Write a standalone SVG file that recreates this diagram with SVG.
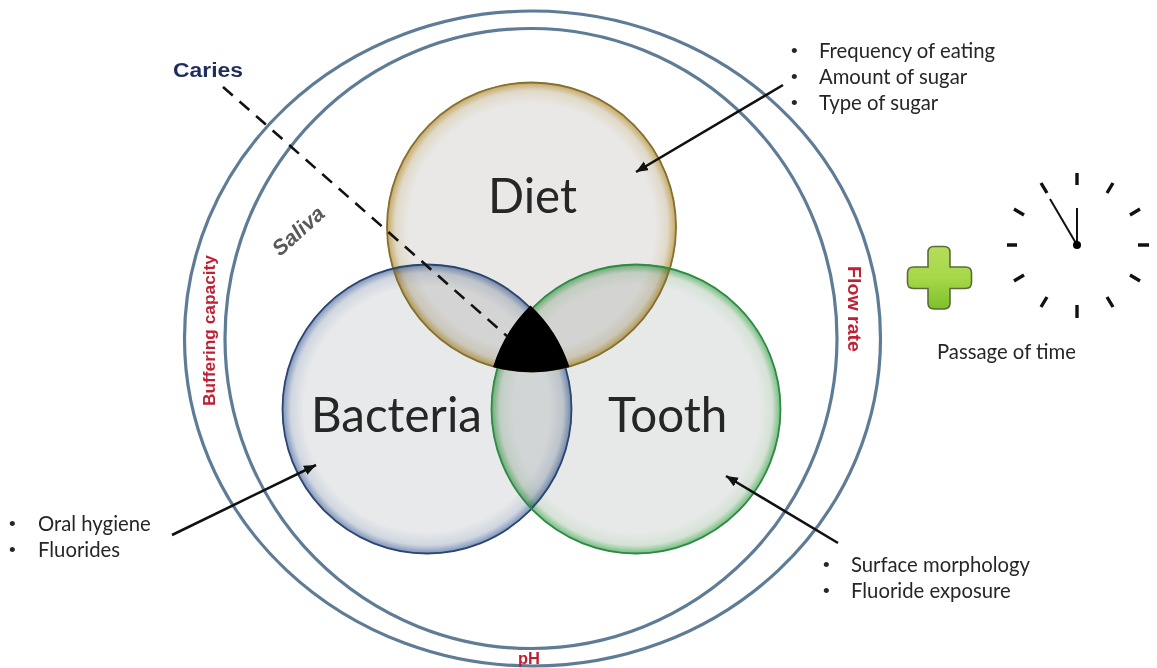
<svg xmlns="http://www.w3.org/2000/svg" width="1157" height="668" viewBox="0 0 1157 668">
<style>
.lab{font-family:"Lato","Open Sans","Liberation Sans",sans-serif;fill:#262626}
.big{font-size:47.500px}
.li{font-size:20.300px}
.bu{font-family:"Liberation Sans",Arial,sans-serif;font-size:19px;fill:#262626}
.red{font-family:"Liberation Sans",Arial,sans-serif;font-weight:700;fill:#bf2033}
.ring{fill:none;stroke:#5f7c97;stroke-width:3.2}
.fillc{mix-blend-mode:multiply}
.edge{fill:none;stroke-width:1.8}
.arrow{fill:none;stroke:#111;stroke-width:2.6}
.dash{fill:none;stroke:#111;stroke-width:2.6;stroke-dasharray:13 9}
.tick{stroke:#111;stroke-width:3.4}
</style>
<defs>
<radialGradient id="gDiet"><stop offset="0.85" stop-color="#e9e8e6"/><stop offset="0.94" stop-color="#e0d9c8"/><stop offset="1" stop-color="#c4a55c"/></radialGradient>
<radialGradient id="gBac"><stop offset="0.85" stop-color="#e7e9ea"/><stop offset="0.94" stop-color="#d0d6e0"/><stop offset="1" stop-color="#7890b8"/></radialGradient>
<radialGradient id="gToo"><stop offset="0.85" stop-color="#e7e9e8"/><stop offset="0.94" stop-color="#d5e2d6"/><stop offset="1" stop-color="#6dbb78"/></radialGradient>
<linearGradient id="gPlus" x1="0" y1="0" x2="0" y2="1"><stop offset="0" stop-color="#b5dc5a"/><stop offset="0.5" stop-color="#a6d84a"/><stop offset="1" stop-color="#7fbf2a"/></linearGradient>
<marker id="ah" markerUnits="userSpaceOnUse" markerWidth="14" markerHeight="12" refX="12" refY="5" orient="auto"><path d="M0 0L12 5L0 10z" fill="#111"/></marker>
</defs>
<rect width="1157" height="668" fill="#fff"/>

<g id="saliva-rings">
<ellipse class="ring" cx="532.5" cy="338.5" rx="348" ry="327.5"/>
<ellipse class="ring" cx="531" cy="338.5" rx="306" ry="310"/>
</g>

<g id="venn-fills">
<circle class="fillc" cx="531.5" cy="227" r="145" fill="url(#gDiet)"/>
<circle class="fillc" cx="427" cy="409" r="145" fill="url(#gBac)"/>
<circle class="fillc" cx="636" cy="409" r="145" fill="url(#gToo)"/>
</g>
<g id="diet">
<circle class="edge" cx="531.5" cy="227" r="144.500" stroke="#84702f"/>
<text class="lab big" x="488" y="213">Diet</text>
</g>
<g id="bacteria">
<circle class="edge" cx="427" cy="409" r="144.500" stroke="#2c4672"/>
<text class="lab big" x="311" y="432">Bacteria</text>
</g>
<g id="tooth">
<circle class="edge" cx="636" cy="409" r="144.500" stroke="#2f8a45"/>
<text class="lab big" x="608" y="432">Tooth</text>
</g>
<g id="caries-core">
<path d="M530.500 306.500A145 145 0 0 1 568.500 366.500A145 145 0 0 1 494 366.500A145 145 0 0 1 530.500 306.500Z" fill="#000" stroke="#000" stroke-width="1.500"/>
</g>

<g id="connectors">
<path class="dash" d="M223 87L508 337"/>
<path class="arrow" marker-end="url(#ah)" d="M783 85L636 172"/>
<path class="arrow" marker-end="url(#ah)" d="M172 535L316 465"/>
<path class="arrow" marker-end="url(#ah)" d="M838 543L726 476"/>
</g>

<g id="caries-label"><text x="173" y="77" font-family="Liberation Sans,Arial,sans-serif" font-weight="700" font-size="19.500" fill="#1d2d5c" textLength="70" lengthAdjust="spacingAndGlyphs">Caries</text></g>
<g id="saliva-label"><text transform="translate(280 257) rotate(-42)" font-family="Liberation Sans,Arial,sans-serif" font-weight="700" font-style="italic" font-size="21.500" fill="#595959">Saliva</text></g>
<g id="buffering-label"><text class="red" transform="translate(215 406) rotate(-90)" font-size="16.500" textLength="151" lengthAdjust="spacingAndGlyphs">Buffering capacity</text></g>
<g id="flow-label"><text class="red" transform="translate(848 266) rotate(90)" font-size="19" textLength="86" lengthAdjust="spacingAndGlyphs">Flow rate</text></g>
<g id="ph-label"><text class="red" x="518" y="664" font-size="16.500">pH</text></g>

<g id="diet-factors">
<text class="bu" x="791" y="57">•</text><text class="lab li" x="819" y="58">Frequency of eating</text>
<text class="bu" x="791" y="83">•</text><text class="lab li" x="819" y="84">Amount of sugar</text>
<text class="bu" x="791" y="109">•</text><text class="lab li" x="819" y="110">Type of sugar</text>
</g>
<g id="bacteria-factors">
<text class="bu" x="9" y="530">•</text><text class="lab li" x="38" y="531">Oral hygiene</text>
<text class="bu" x="9" y="556">•</text><text class="lab li" x="38" y="557">Fluorides</text>
</g>
<g id="tooth-factors">
<text class="bu" x="823" y="571">•</text><text class="lab li" x="851" y="572">Surface morphology</text>
<text class="bu" x="823" y="597">•</text><text class="lab li" x="851" y="598">Fluoride exposure</text>
</g>

<g id="plus">
<path d="M934 246.500H944Q950 246.500 950 252.500V267H965.500Q971.500 267 971.500 273V282.500Q971.500 288.500 965.500 288.500H950V303Q950 309 944 309H934Q928 309 928 303V288.500H913.500Q907.500 288.500 907.500 282.500V273Q907.500 267 913.500 267H928V252.500Q928 246.500 934 246.500Z" fill="url(#gPlus)" stroke="#5a6b3a" stroke-width="1.600"/>
</g>

<g id="clock">
<path class="tick" d="M1077 173V185M1077 305V318M1007 245H1017M1138 245H1149M1113 183L1107 193M1041 183L1047 193M1140 209L1130 215M1014 209L1024 215M1140 281L1130 275M1014 281L1024 275M1113 307L1107 297M1041 307L1047 297"/>
<path d="M1077 245L1050 199" stroke="#111" stroke-width="2" fill="none"/>
<path d="M1077 245V208" stroke="#111" stroke-width="2" fill="none"/>
<circle cx="1077" cy="245" r="4" fill="#000"/>
<text class="lab li" x="937" y="359">Passage of time</text>
</g>
</svg>
